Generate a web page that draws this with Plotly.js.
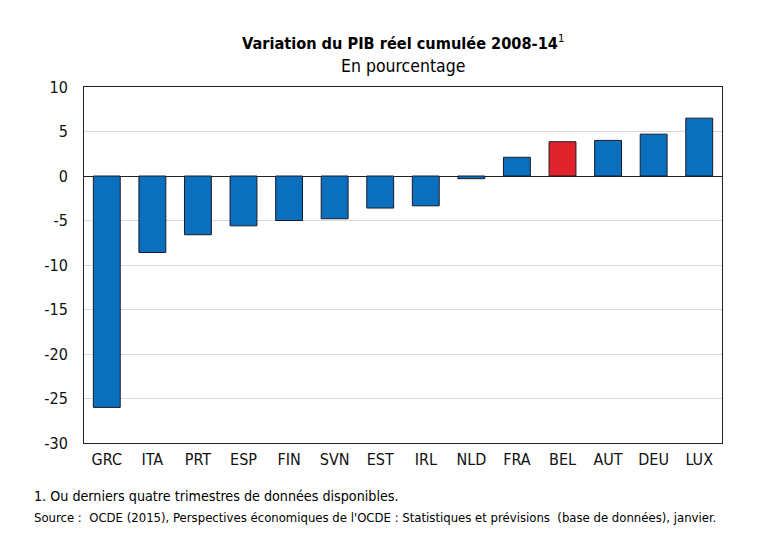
<!DOCTYPE html>
<html>
<head>
<meta charset="utf-8">
<script src="https://cdn.plot.ly/plotly-3.0.1.min.js"></script>
<style>body{margin:0;background:#fff}#chart{width:770px;height:548px}</style>
</head>
<body>
<div id="chart"></div>
<script>
const categories = ["GRC","ITA","PRT","ESP","FIN","SVN","EST","IRL","NLD","FRA","BEL","AUT","DEU","LUX"];
const values = [-26.0,-8.6,-6.6,-5.6,-5.0,-4.8,-3.6,-3.35,-0.3,2.1,3.85,4.0,4.7,6.5];
const highlight = "BEL";
const yTicks = [-30,-25,-20,-15,-10,-5,0,5,10];
const yTickText = yTicks.map(v => String(v));

const blue = "#0a6fbd", red = "#e0222b";
const colors = categories.map(c => c === highlight ? red : blue);
const font = "DejaVu Sans Condensed, DejaVu Sans, sans-serif";

const trace = {
  type: "bar", x: categories, y: values,
  marker: {color: colors, line: {color: "#1a1a2a", width: 1}},
  hoverinfo: "x+y"
};

const layout = {
  width: 770, height: 548,
  margin: {l: 84, r: 48, t: 87, b: 105},
  paper_bgcolor: "#fff", plot_bgcolor: "#fff",
  bargap: 0.41,
  showlegend: false,
  font: {family: font, size: 16, color: "#111"},
  xaxis: {
    type: "category", showline: true, mirror: true, linecolor: "#222", linewidth: 1,
    ticks: "", tickfont: {size: 16}, showgrid: false, ticklabelstandoff: 2
  },
  yaxis: {
    range: [-30, 10], tickvals: yTicks, ticktext: yTickText, showline: true, mirror: true, linecolor: "#222", linewidth: 1,
    showgrid: true, gridcolor: "#d9d9d9", gridwidth: 1,
    zeroline: true, zerolinecolor: "#222", zerolinewidth: 1,
    ticks: "", ticklabelstandoff: 12, tickfont: {size: 16}
  },
  annotations: [
    {text: "<b>Variation du PIB réel cumulée 2008-14</b><sup>1</sup>", xref: "paper", yref: "paper",
     x: 0.5, y: 1, yshift: 45, xanchor: "center", yanchor: "middle", showarrow: false,
     font: {family: font, size: 16.2, color: "#000"}},
    {text: "En pourcentage", xref: "paper", yref: "paper",
     x: 0.5, y: 1, yshift: 21, xanchor: "center", yanchor: "middle", showarrow: false,
     font: {family: font, size: 17.5, color: "#000"}},
    {text: "1. Ou derniers quatre trimestres de données disponibles.", xref: "paper", yref: "paper",
     x: 0, xshift: -52, y: 0, yshift: -53, xanchor: "left", yanchor: "middle", showarrow: false,
     font: {family: font, size: 14.2, color: "#000"}},
    {text: "Source :  OCDE (2015), Perspectives économiques de l'OCDE : Statistiques et prévisions  (base de données), janvier.", xref: "paper", yref: "paper",
     x: 0, xshift: -52, y: 0, yshift: -74, xanchor: "left", yanchor: "middle", showarrow: false,
     font: {family: font, size: 13, color: "#000"}}
  ]
};

Plotly.newPlot("chart", [trace], layout, {displayModeBar: false, staticPlot: true});
</script>
</body>
</html>
